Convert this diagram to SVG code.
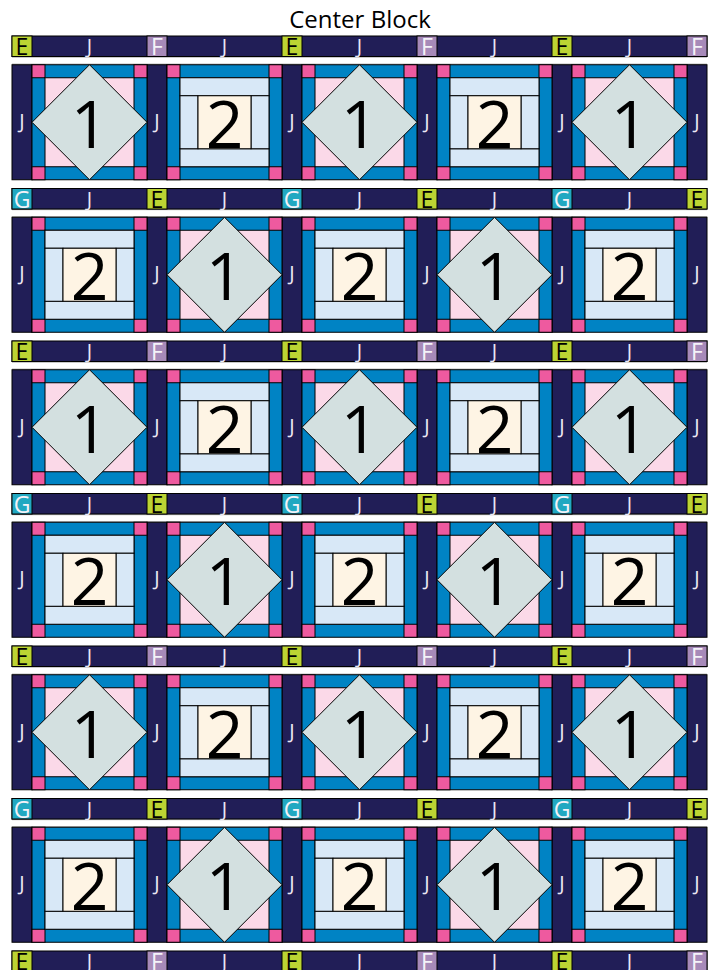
<svg xmlns="http://www.w3.org/2000/svg" width="716" height="970" viewBox="0 0 716 970">
<style>
.nv{fill:#211e57;stroke:#000;stroke-width:1}
.cE{fill:#bcd433;stroke:#000;stroke-width:1}
.cF{fill:#a78ab9;stroke:#000;stroke-width:1}
.cG{fill:#22a8c1;stroke:#000;stroke-width:1}
.bl{fill:#0083c4;stroke:#000;stroke-width:1}
.pk{fill:#ee5a9f;stroke:#000;stroke-width:1}
.lp{fill:#fbd9e8;stroke:#000;stroke-width:1}
.dm{fill:#d3e0e0;stroke:#000;stroke-width:1}
.lb{fill:#d8e8f7;stroke:#000;stroke-width:1}
.cr{fill:#fef4e4;stroke:#000;stroke-width:1}
.sh{fill:#b4b4b4}
text{font-family:"Open Sans","Noto Sans",sans-serif;text-anchor:middle}
.j{font-size:20px;fill:#ece8f4}
.lk{font-size:23px;fill:#000}
.lw{font-size:23px;fill:#f4f2f8}
.num{font-size:66px;fill:#000}
.ttl{font-size:24px;fill:#000}
</style>
<defs>
<g id="b1">
<rect class="bl" x="0" y="0" width="115" height="115"/>
<rect class="pk" x="0" y="0" width="13" height="13"/>
<rect class="pk" x="102" y="0" width="13" height="13"/>
<rect class="pk" x="0" y="102" width="13" height="13"/>
<rect class="pk" x="102" y="102" width="13" height="13"/>
<rect class="lp" x="13" y="13" width="89" height="89"/>
<polygon class="dm" points="57.5,0 115,57.5 57.5,115 0,57.5"/>
</g>
<g id="b2">
<rect class="bl" x="0" y="0" width="115" height="115"/>
<rect class="pk" x="0" y="0" width="13" height="13"/>
<rect class="pk" x="102" y="0" width="13" height="13"/>
<rect class="pk" x="0" y="102" width="13" height="13"/>
<rect class="pk" x="102" y="102" width="13" height="13"/>
<rect class="lb" x="13" y="13" width="89" height="89"/>
<rect class="lb" x="13" y="13" width="89" height="18"/>
<rect class="lb" x="13" y="84" width="89" height="18"/>
<rect class="lb" x="13" y="31" width="18" height="53"/>
<rect class="lb" x="84" y="31" width="18" height="53"/>
<rect class="cr" x="31" y="31" width="53" height="53"/>
</g>
<g id="stripA">
<rect class="sh" x="12" y="20.5" width="695" height="1.2"/>
<rect class="nv" x="12" y="0" width="695" height="20.5"/>
<rect class="cE" x="12" y="0" width="20" height="20.5"/>
<rect class="cF" x="147" y="0" width="20" height="20.5"/>
<rect class="cE" x="282" y="0" width="20" height="20.5"/>
<rect class="cF" x="417" y="0" width="20" height="20.5"/>
<rect class="cE" x="552" y="0" width="20" height="20.5"/>
<rect class="cF" x="687" y="0" width="20" height="20.5"/>
</g>
<g id="stripB">
<rect class="sh" x="12" y="20.5" width="695" height="1.2"/>
<rect class="nv" x="12" y="0" width="695" height="20.5"/>
<rect class="cG" x="12" y="0" width="20" height="20.5"/>
<rect class="cE" x="147" y="0" width="20" height="20.5"/>
<rect class="cG" x="282" y="0" width="20" height="20.5"/>
<rect class="cE" x="417" y="0" width="20" height="20.5"/>
<rect class="cG" x="552" y="0" width="20" height="20.5"/>
<rect class="cE" x="687" y="0" width="20" height="20.5"/>
</g>
<g id="vsash">
<rect class="sh" x="12" y="-1.2" width="695" height="1.2"/>
<rect class="nv" x="12" y="0" width="20" height="115"/>
<rect class="nv" x="147" y="0" width="20" height="115"/>
<rect class="nv" x="282" y="0" width="20" height="115"/>
<rect class="nv" x="417" y="0" width="20" height="115"/>
<rect class="nv" x="552" y="0" width="20" height="115"/>
<rect class="nv" x="687" y="0" width="20" height="115"/>
</g>
</defs>

<text id="title" class="ttl" x="360" y="28">Center Block</text>

<g id="sashing-1" transform="translate(0,36)">
<use href="#stripA"/>
<text class="lk" x="22" y="19">E</text><text class="j" x="89.5" y="17">J</text><text class="lw" x="157" y="19">F</text><text class="j" x="224.5" y="17">J</text><text class="lk" x="292" y="19">E</text><text class="j" x="359.5" y="17">J</text><text class="lw" x="427" y="19">F</text><text class="j" x="494.5" y="17">J</text><text class="lk" x="562" y="19">E</text><text class="j" x="629.5" y="17">J</text><text class="lw" x="697" y="19">F</text>
</g>
<g id="row-1" transform="translate(0,64.75)">
<use href="#vsash"/>
<text class="j" x="22" y="63">J</text><text class="j" x="157" y="63">J</text><text class="j" x="292" y="63">J</text><text class="j" x="427" y="63">J</text><text class="j" x="562" y="63">J</text><text class="j" x="697" y="63">J</text>
<g id="r1b1"><use href="#b1" x="32"/><text class="num" x="89.5" y="83">1</text></g>
<g id="r1b2"><use href="#b2" x="167"/><text class="num" x="224.5" y="83">2</text></g>
<g id="r1b3"><use href="#b1" x="302"/><text class="num" x="359.5" y="83">1</text></g>
<g id="r1b4"><use href="#b2" x="437"/><text class="num" x="494.5" y="83">2</text></g>
<g id="r1b5"><use href="#b1" x="572"/><text class="num" x="629.5" y="83">1</text></g>
</g>

<g id="sashing-2" transform="translate(0,188.5)">
<use href="#stripB"/>
<text class="lw" x="22" y="19">G</text><text class="j" x="89.5" y="17">J</text><text class="lk" x="157" y="19">E</text><text class="j" x="224.5" y="17">J</text><text class="lw" x="292" y="19">G</text><text class="j" x="359.5" y="17">J</text><text class="lk" x="427" y="19">E</text><text class="j" x="494.5" y="17">J</text><text class="lw" x="562" y="19">G</text><text class="j" x="629.5" y="17">J</text><text class="lk" x="697" y="19">E</text>
</g>
<g id="row-2" transform="translate(0,217.25)">
<use href="#vsash"/>
<text class="j" x="22" y="63">J</text><text class="j" x="157" y="63">J</text><text class="j" x="292" y="63">J</text><text class="j" x="427" y="63">J</text><text class="j" x="562" y="63">J</text><text class="j" x="697" y="63">J</text>
<g id="r2b1"><use href="#b2" x="32"/><text class="num" x="89.5" y="83">2</text></g>
<g id="r2b2"><use href="#b1" x="167"/><text class="num" x="224.5" y="83">1</text></g>
<g id="r2b3"><use href="#b2" x="302"/><text class="num" x="359.5" y="83">2</text></g>
<g id="r2b4"><use href="#b1" x="437"/><text class="num" x="494.5" y="83">1</text></g>
<g id="r2b5"><use href="#b2" x="572"/><text class="num" x="629.5" y="83">2</text></g>
</g>

<g id="sashing-3" transform="translate(0,341)">
<use href="#stripA"/>
<text class="lk" x="22" y="19">E</text><text class="j" x="89.5" y="17">J</text><text class="lw" x="157" y="19">F</text><text class="j" x="224.5" y="17">J</text><text class="lk" x="292" y="19">E</text><text class="j" x="359.5" y="17">J</text><text class="lw" x="427" y="19">F</text><text class="j" x="494.5" y="17">J</text><text class="lk" x="562" y="19">E</text><text class="j" x="629.5" y="17">J</text><text class="lw" x="697" y="19">F</text>
</g>
<g id="row-3" transform="translate(0,369.75)">
<use href="#vsash"/>
<text class="j" x="22" y="63">J</text><text class="j" x="157" y="63">J</text><text class="j" x="292" y="63">J</text><text class="j" x="427" y="63">J</text><text class="j" x="562" y="63">J</text><text class="j" x="697" y="63">J</text>
<g id="r3b1"><use href="#b1" x="32"/><text class="num" x="89.5" y="83">1</text></g>
<g id="r3b2"><use href="#b2" x="167"/><text class="num" x="224.5" y="83">2</text></g>
<g id="r3b3"><use href="#b1" x="302"/><text class="num" x="359.5" y="83">1</text></g>
<g id="r3b4"><use href="#b2" x="437"/><text class="num" x="494.5" y="83">2</text></g>
<g id="r3b5"><use href="#b1" x="572"/><text class="num" x="629.5" y="83">1</text></g>
</g>

<g id="sashing-4" transform="translate(0,493.5)">
<use href="#stripB"/>
<text class="lw" x="22" y="19">G</text><text class="j" x="89.5" y="17">J</text><text class="lk" x="157" y="19">E</text><text class="j" x="224.5" y="17">J</text><text class="lw" x="292" y="19">G</text><text class="j" x="359.5" y="17">J</text><text class="lk" x="427" y="19">E</text><text class="j" x="494.5" y="17">J</text><text class="lw" x="562" y="19">G</text><text class="j" x="629.5" y="17">J</text><text class="lk" x="697" y="19">E</text>
</g>
<g id="row-4" transform="translate(0,522.25)">
<use href="#vsash"/>
<text class="j" x="22" y="63">J</text><text class="j" x="157" y="63">J</text><text class="j" x="292" y="63">J</text><text class="j" x="427" y="63">J</text><text class="j" x="562" y="63">J</text><text class="j" x="697" y="63">J</text>
<g id="r4b1"><use href="#b2" x="32"/><text class="num" x="89.5" y="83">2</text></g>
<g id="r4b2"><use href="#b1" x="167"/><text class="num" x="224.5" y="83">1</text></g>
<g id="r4b3"><use href="#b2" x="302"/><text class="num" x="359.5" y="83">2</text></g>
<g id="r4b4"><use href="#b1" x="437"/><text class="num" x="494.5" y="83">1</text></g>
<g id="r4b5"><use href="#b2" x="572"/><text class="num" x="629.5" y="83">2</text></g>
</g>

<g id="sashing-5" transform="translate(0,646)">
<use href="#stripA"/>
<text class="lk" x="22" y="19">E</text><text class="j" x="89.5" y="17">J</text><text class="lw" x="157" y="19">F</text><text class="j" x="224.5" y="17">J</text><text class="lk" x="292" y="19">E</text><text class="j" x="359.5" y="17">J</text><text class="lw" x="427" y="19">F</text><text class="j" x="494.5" y="17">J</text><text class="lk" x="562" y="19">E</text><text class="j" x="629.5" y="17">J</text><text class="lw" x="697" y="19">F</text>
</g>
<g id="row-5" transform="translate(0,674.75)">
<use href="#vsash"/>
<text class="j" x="22" y="63">J</text><text class="j" x="157" y="63">J</text><text class="j" x="292" y="63">J</text><text class="j" x="427" y="63">J</text><text class="j" x="562" y="63">J</text><text class="j" x="697" y="63">J</text>
<g id="r5b1"><use href="#b1" x="32"/><text class="num" x="89.5" y="83">1</text></g>
<g id="r5b2"><use href="#b2" x="167"/><text class="num" x="224.5" y="83">2</text></g>
<g id="r5b3"><use href="#b1" x="302"/><text class="num" x="359.5" y="83">1</text></g>
<g id="r5b4"><use href="#b2" x="437"/><text class="num" x="494.5" y="83">2</text></g>
<g id="r5b5"><use href="#b1" x="572"/><text class="num" x="629.5" y="83">1</text></g>
</g>

<g id="sashing-6" transform="translate(0,798.5)">
<use href="#stripB"/>
<text class="lw" x="22" y="19">G</text><text class="j" x="89.5" y="17">J</text><text class="lk" x="157" y="19">E</text><text class="j" x="224.5" y="17">J</text><text class="lw" x="292" y="19">G</text><text class="j" x="359.5" y="17">J</text><text class="lk" x="427" y="19">E</text><text class="j" x="494.5" y="17">J</text><text class="lw" x="562" y="19">G</text><text class="j" x="629.5" y="17">J</text><text class="lk" x="697" y="19">E</text>
</g>
<g id="row-6" transform="translate(0,827.25)">
<use href="#vsash"/>
<text class="j" x="22" y="63">J</text><text class="j" x="157" y="63">J</text><text class="j" x="292" y="63">J</text><text class="j" x="427" y="63">J</text><text class="j" x="562" y="63">J</text><text class="j" x="697" y="63">J</text>
<g id="r6b1"><use href="#b2" x="32"/><text class="num" x="89.5" y="83">2</text></g>
<g id="r6b2"><use href="#b1" x="167"/><text class="num" x="224.5" y="83">1</text></g>
<g id="r6b3"><use href="#b2" x="302"/><text class="num" x="359.5" y="83">2</text></g>
<g id="r6b4"><use href="#b1" x="437"/><text class="num" x="494.5" y="83">1</text></g>
<g id="r6b5"><use href="#b2" x="572"/><text class="num" x="629.5" y="83">2</text></g>
</g>

<g id="sashing-7" transform="translate(0,951)">
<use href="#stripA"/>
<text class="lk" x="22" y="19">E</text><text class="j" x="89.5" y="17">J</text><text class="lw" x="157" y="19">F</text><text class="j" x="224.5" y="17">J</text><text class="lk" x="292" y="19">E</text><text class="j" x="359.5" y="17">J</text><text class="lw" x="427" y="19">F</text><text class="j" x="494.5" y="17">J</text><text class="lk" x="562" y="19">E</text><text class="j" x="629.5" y="17">J</text><text class="lw" x="697" y="19">F</text>
</g>
</svg>
